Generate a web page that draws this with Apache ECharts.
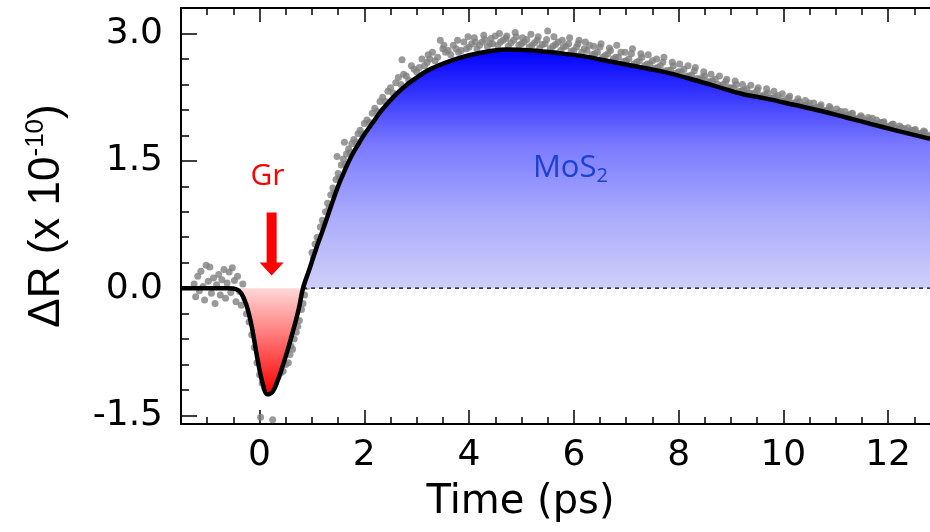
<!DOCTYPE html>
<html><head><meta charset="utf-8">
<script src="https://cdn.jsdelivr.net/npm/echarts@6/dist/echarts.min.js"></script>
<style>html,body{margin:0;padding:0;background:#fff}#c{width:930px;height:532px}</style>
</head><body><div id="c"></div>
<script>
// ---- axis ranges & ticks ----
const xMin = -1.5, xMax = 12.8, yMin = -1.6, yMax = 3.3;
const xMajorTicks = [0, 2, 4, 6, 8, 10, 12];
const xMinorTicks = [-1, -0.5, 0.5, 1, 1.5, 2.5, 3, 3.5, 4.5, 5, 5.5, 6.5, 7, 7.5, 8.5, 9, 9.5, 10.5, 11, 11.5, 12.5];
const yMajorTicks = [-1.5, 0, 1.5, 3.0];
const yMinorTicks = [-1.2, -0.9, -0.6, -0.3, 0.3, 0.6, 0.9, 1.2, 1.8, 2.1, 2.4, 2.7];

// ---- fitted curve (black) ----
const fitT = [-1.5,-1.0,-0.6,-0.45,-0.35,-0.25,-0.15,-0.05,0.05,0.15,0.25,0.35,0.45,0.55,0.65,0.75,0.83,0.95,1.1,1.2,1.3,1.4,1.5,1.6,1.75,1.9,2.0,2.15,2.3,2.45,2.6,2.8,3.0,3.2,3.4,3.8,4.2,4.7,5.2,5.7,6.2,6.7,7.2,7.7,8.2,8.7,9.2,9.7,10.2,10.7,11.2,11.7,12.2,12.8];
const fitV = [0,0,0,-0.01,-0.06,-0.2,-0.45,-0.8,-1.1,-1.25,-1.22,-1.08,-0.9,-0.7,-0.48,-0.24,0,0.22,0.5,0.67,0.85,1.03,1.2,1.35,1.55,1.71,1.81,1.94,2.07,2.18,2.28,2.39,2.48,2.56,2.62,2.71,2.77,2.81,2.8,2.77,2.73,2.67,2.61,2.55,2.47,2.38,2.29,2.23,2.16,2.09,2.01,1.93,1.85,1.76];
const zeroCrossT = 0.83;

// ---- measured data points (grey) ----
const scatterData = [
[-1.25,0.05],[-1.22,-0.1],[-1.18,0.14],[-1.15,-0.03],[-1.12,0.2],[-1.08,0.02],[-1.05,-0.14],[-1.02,0.27],[-0.98,0.08],[-0.95,0.25],
[-0.92,-0.06],[-0.88,0.12],[-0.85,-0.18],[-0.82,0.04],[-0.78,0.16],[-0.75,-0.08],[-0.72,0.1],[-0.68,0.22],[-0.65,-0.12],[-0.62,0.06],
[-0.58,0.19],[-0.55,-0.05],[-0.52,0.24],[-0.48,0.09],[-0.45,-0.16],[-0.42,0.14],[-0.38,-0.04],[-0.35,-0.2],[-0.32,0.05],[-0.28,-0.12],
[-0.25,-0.3],[-0.2,-0.4],[-0.15,-0.55],[-0.1,-0.7],[-0.05,-0.88],[0.0,-1.02],[0.02,-1.52],[0.05,-1.12],[0.1,-1.18],[0.15,-1.2],
[0.2,-1.17],[0.25,-1.55],[0.3,-1.12],[0.35,-1.05],[0.4,-1.0],[0.45,-0.98],[0.5,-0.9],[0.55,-0.88],[0.58,-0.78],[0.6,-0.68],
[0.63,-0.72],[0.66,-0.6],[0.7,-0.52],[0.73,-0.45],[0.76,-0.38],[0.8,-0.25],[0.83,-0.18],[0.86,-0.08],[0.9,0.02],[0.93,0.1],[0.97,0.2],
[1.0,0.42],[1.03,0.36],[1.06,0.52],[1.1,0.6],[1.13,0.55],[1.16,0.72],[1.2,0.8],[1.23,0.76],[1.26,0.9],[1.3,1.0],
[1.33,0.95],[1.36,1.1],[1.4,1.18],[1.43,1.12],[1.46,1.28],[1.48,1.55],[1.5,1.35],[1.53,1.3],[1.56,1.45],[1.6,1.52],[1.62,1.72],
[1.63,1.46],[1.66,1.58],[1.7,1.64],[1.73,1.6],[1.76,1.7],[1.8,1.75],[1.84,1.72],[1.88,1.82],[1.92,1.86],[1.96,1.82],
[2.0,1.94],[2.05,1.98],[2.1,1.95],[2.15,2.06],[2.2,2.12],[2.25,2.08],[2.3,2.2],[2.35,2.25],[2.4,2.2],[2.45,2.32],
[2.5,2.36],[2.55,2.3],[2.6,2.42],[2.65,2.48],[2.7,2.4],[2.72,2.69],[2.75,2.52],
[2.8,2.5],[2.9,2.62],[3.0,2.55],[3.1,2.7],[3.2,2.66],[3.3,2.78],[3.4,2.72],[3.45,2.92],[3.5,2.82],[3.6,2.8],[3.7,2.86],[3.8,2.78],[3.9,2.9],
[4.0,2.84],[4.1,2.95],[4.2,2.86],[4.3,2.93],[4.4,2.88],[4.5,2.97],[4.6,2.9],[4.7,2.94],[4.8,2.89],[4.9,2.96],
[5.0,2.88],[5.1,2.93],[5.2,2.86],[5.3,2.92],[5.4,2.87],[5.5,3.03],[5.6,2.85],[5.7,2.9],[5.8,2.84],[5.9,2.88],
[6.0,2.8],[6.1,2.92],[6.2,2.82],[6.3,2.86],[6.4,2.76],[6.5,2.84],[6.6,2.74],[6.7,2.8],[6.8,2.72],[6.9,2.78],
[7.0,2.68],[7.1,2.76],[7.2,2.66],[7.3,2.72],[7.4,2.64],[7.5,2.68],[7.6,2.6],[7.7,2.66],[7.8,2.56],[7.9,2.62],
[8.0,2.55],[8.1,2.58],[8.2,2.5],[8.3,2.56],[8.4,2.46],[8.5,2.5],[8.6,2.43],[8.7,2.46],[8.8,2.38],[8.9,2.43],
[9.0,2.36],[9.1,2.4],[9.2,2.32],[9.3,2.35],[9.4,2.29],[9.5,2.33],[9.6,2.26],[9.7,2.3],[9.8,2.24],[9.9,2.27],
[10.0,2.2],[10.1,2.24],[10.2,2.18],[10.3,2.2],[10.4,2.15],[10.5,2.18],[10.6,2.12],[10.7,2.14],[10.8,2.09],[10.9,2.12],
[11.0,2.06],[11.1,2.08],[11.2,2.03],[11.3,2.05],[11.4,1.99],[11.5,2.01],[11.6,1.97],[11.7,2.0],[11.8,1.93],[11.9,1.95],
[12.0,1.9],[12.1,1.93],[12.2,1.87],[12.3,1.88],[12.4,1.84],[12.5,1.86],[12.6,1.82],[12.7,1.84],[12.8,1.8],
[2.85,2.45],[2.95,2.58],[3.05,2.6],[3.15,2.62],[3.25,2.7],[3.35,2.68],[3.55,2.78],[3.65,2.75],[3.75,2.82],[3.85,2.8],[3.95,2.82],
[4.05,2.88],[4.15,2.82],[4.25,2.9],[4.35,2.85],[4.45,2.88],[4.55,2.86],[4.65,2.92],[4.75,2.85],[4.85,2.92],[4.95,2.86],
[5.05,2.9],[5.15,2.84],[5.25,2.89],[5.35,2.83],[5.45,2.88],[5.55,2.82],[5.65,2.87],[5.75,2.8],[5.85,2.85],[5.95,2.79],
[6.05,2.84],[6.15,2.78],[6.25,2.8],[6.35,2.75],[6.45,2.78],[6.55,2.72],[6.65,2.76],[6.75,2.7],[6.85,2.72],[6.95,2.67],
[7.05,2.7],[7.15,2.64],[7.25,2.68],[7.35,2.62],[7.45,2.64],[7.55,2.59],[7.65,2.62],[7.75,2.56],[7.85,2.57],[7.95,2.53],
[8.05,2.55],[8.15,2.5],[8.25,2.51],[8.35,2.47],[8.45,2.48],[8.55,2.43],[8.65,2.44],[8.75,2.4],[8.85,2.4],[8.95,2.36],
[9.05,2.36],[9.15,2.32],[9.25,2.33],[9.35,2.3],[9.45,2.3],[9.55,2.27],[9.65,2.28],[9.75,2.24],[9.85,2.25],[9.95,2.21],
[10.05,2.22],[10.15,2.18],[10.25,2.19],[10.35,2.15],[10.45,2.16],[10.55,2.12],[10.65,2.13],[10.75,2.1],[10.85,2.1],[10.95,2.06],
[11.05,2.07],[11.15,2.03],[11.25,2.04],[11.35,2.0],[11.45,2.01],[11.55,1.97],[11.65,1.98],[11.75,1.94],[11.85,1.95],[11.95,1.91],
[12.05,1.92],[12.15,1.88],[12.25,1.89],[12.35,1.85],[12.45,1.86],[12.55,1.82],[12.65,1.83],[12.75,1.79],
[3.22,2.75],[3.52,2.86],[3.78,2.92],[3.98,2.96],[4.12,2.9],[4.28,2.98],[4.42,2.94],[4.58,3.0],[4.72,2.97],[4.88,3.01],
[5.02,2.95],[5.18,2.99],[5.32,2.96],[5.48,2.93],[5.62,2.96],[5.78,2.92],[5.92,2.95],[6.08,2.88],[6.22,2.9],[6.38,2.85],
[6.52,2.88],[6.68,2.83],[6.82,2.86],[6.98,2.78],[7.12,2.82],[7.28,2.76],[7.42,2.75],[7.58,2.7],[7.72,2.72],[7.88,2.66],
[8.02,2.64],[8.18,2.62],[8.32,2.6],[8.48,2.55],[8.62,2.52],[8.78,2.5],[8.92,2.46],[9.08,2.44],[9.22,2.4],[9.38,2.39],
[9.52,2.36],[9.68,2.35],[9.82,2.32],[9.98,2.29],[10.12,2.26],[10.28,2.23],[10.42,2.21],[10.58,2.18],[10.72,2.16],[10.88,2.14],
[11.02,2.11],[11.18,2.08],[11.32,2.06],[11.48,2.03],[11.62,2.01],[11.78,1.98],[11.92,1.96],[12.08,1.93],[12.22,1.91],[12.38,1.89],
[12.52,1.87],[12.68,1.85]
];

// ---- annotations (data coordinates) ----
const arrowPos = [0.23, 0.52];
const grLabelPos = [0.15, 1.31];
const mosLabelPos = [5.22, 1.41];

// ---- build series data from arrays ----
const fitData = fitT.map((t, i) => [t, fitV[i]]);
const blueData = fitData.filter(p => p[0] >= zeroCrossT);
const redData = fitData.filter(p => p[0] >= -0.6 && p[0] <= zeroCrossT);
const zeroLine = [[zeroCrossT, 0], [xMax, 0]];

const chart = echarts.init(document.getElementById('c'), null, {renderer: 'canvas'});
const black = '#000';
const tickFont = 'DejaVu Sans';

function xAx(pos, ticks, len, withLabel) {
  const a = {
    type: 'value', min: xMin, max: xMax, position: pos,
    axisLine: {show: withLabel, onZero: false, lineStyle: {color: black, width: 2}},
    axisTick: {show: true, inside: true, length: len, customValues: ticks, lineStyle: {color: black, width: 1.5}},
    axisLabel: {show: false},
    splitLine: {show: false}
  };
  if (withLabel && pos === 'bottom') {
    a.axisLabel = {show: true, customValues: ticks, fontFamily: tickFont, fontSize: 36, color: black, margin: 14};
    a.name = 'Time (ps)';
    a.nameLocation = 'middle';
    a.nameGap = 59;
    a.nameTextStyle = {fontFamily: tickFont, fontSize: 40, color: black, padding: [0, 70, 0, 0]};
  }
  return a;
}
function yAx(ticks, len, withLabel) {
  const a = {
    type: 'value', min: yMin, max: yMax, position: 'left',
    axisLine: {show: withLabel, onZero: false, lineStyle: {color: black, width: 2}},
    axisTick: {show: true, inside: true, length: len, customValues: ticks, lineStyle: {color: black, width: 1.5}},
    axisLabel: {show: false},
    splitLine: {show: false}
  };
  if (withLabel) {
    a.axisLabel = {show: true, customValues: ticks, formatter: v => v.toFixed(1), fontFamily: tickFont, fontSize: 36, color: black, margin: 18};
    a.name = '{a|\u0394R (x 10}{b|-10}{a|)}';
    a.nameLocation = 'middle';
    a.nameRotate = 90;
    a.nameGap = 110;
    a.nameTextStyle = {
      rich: {
        a: {fontFamily: 'Liberation Sans', fontSize: 44, color: black, lineHeight: 48},
        b: {fontFamily: 'Liberation Sans', fontSize: 26, color: black, lineHeight: 30, verticalAlign: 'top'}
      }
    };
  }
  return a;
}

const option = {
  animation: false,
  backgroundColor: '#fff',
  grid: {left: 181, right: 0, top: 8, bottom: 108, containLabel: false},
  xAxis: [
    xAx('bottom', xMajorTicks, 14, true),
    xAx('bottom', xMinorTicks, 7, false),
    xAx('top', xMajorTicks, 14, true),
    xAx('top', xMinorTicks, 7, false)
  ],
  yAxis: [
    yAx(yMajorTicks, 16, true),
    yAx(yMinorTicks, 8, false)
  ],
  series: [
    {
      name: 'data', type: 'scatter', data: scatterData, symbolSize: 7, z: 1, silent: true,
      itemStyle: {color: '#808080'}, clip: true
    },
    {
      name: 'MoS2', type: 'line', data: blueData, smooth: 0.35, showSymbol: false, z: 2, silent: true,
      lineStyle: {width: 2, color: '#8a8a8a'},
      areaStyle: {opacity: 1, color: new echarts.graphic.LinearGradient(0, 0, 0, 1, [
        {offset: 0, color: '#0000ff'}, {offset: 0.15, color: '#2a2aff'}, {offset: 0.4, color: '#7a7aff'},
        {offset: 0.7, color: '#ababfc'}, {offset: 1, color: '#cfcffa'}])}
    },
    {
      name: 'Gr', type: 'line', data: redData, smooth: 0.35, showSymbol: false, z: 2, silent: true,
      lineStyle: {width: 0},
      areaStyle: {opacity: 1, color: new echarts.graphic.LinearGradient(0, 0, 0, 1, [
        {offset: 0, color: '#ffd8d8'}, {offset: 1, color: '#ff0000'}])},
      markPoint: {
        silent: true, symbolKeepAspect: false,
        data: [{coord: arrowPos, symbol: 'path://M7,0L17,0L17,50L24,50L12,63L0,50L7,50Z', symbolSize: [24, 63],
                itemStyle: {color: '#ff0000'}, label: {show: false}}]
      }
    },
    {
      name: 'zero', type: 'line', data: zeroLine, showSymbol: false, z: 3, silent: true,
      lineStyle: {color: black, width: 1.2, type: [4, 4]}
    },
    {
      name: 'fit', type: 'line', data: fitData, smooth: 0.35, showSymbol: false, z: 4, silent: true,
      lineStyle: {color: black, width: 4.5}
    }
  ]
};
chart.setOption(option);

const gp = chart.convertToPixel({xAxisIndex: 0, yAxisIndex: 0}, grLabelPos);
const mp = chart.convertToPixel({xAxisIndex: 0, yAxisIndex: 0}, mosLabelPos);
chart.setOption({
  graphic: [
    {type: 'text', x: gp[0], y: gp[1], z: 10, silent: true,
     style: {text: 'Gr', fill: '#ff0000', fontFamily: 'Open Sans', fontSize: 30, align: 'center', verticalAlign: 'middle'}},
    {type: 'text', x: mp[0], y: mp[1], z: 10, silent: true,
     style: {text: '{a|MoS}{b|2}', align: 'left', verticalAlign: 'middle',
       rich: {
         a: {fill: '#1d41cf', fontFamily: 'Open Sans', fontSize: 31, lineHeight: 36},
         b: {fill: '#1d41cf', fontFamily: 'Open Sans', fontSize: 20, lineHeight: 16, verticalAlign: 'bottom'}
       }}}
  ]
});
</script>
</body></html>
